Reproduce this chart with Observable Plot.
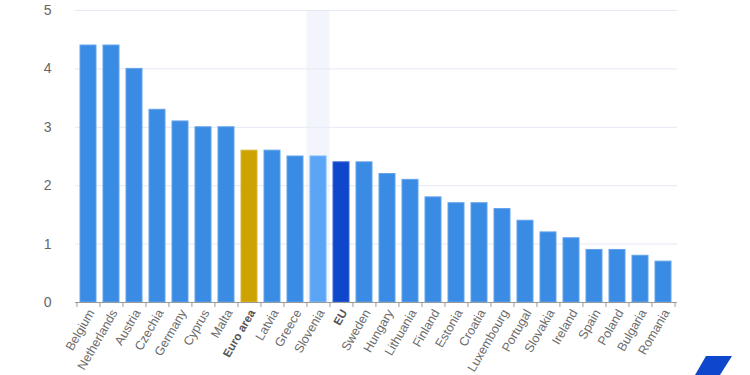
<!DOCTYPE html>
<html>
<head>
<meta charset="utf-8">
<script src="https://cdn.jsdelivr.net/npm/d3@7"></script>
<script src="https://cdn.jsdelivr.net/npm/@observablehq/plot@0.6"></script>
<style>
  html, body { margin: 0; padding: 0; background: #fff; }
  #wrap { position: relative; width: 750px; height: 375px; overflow: hidden; }
  #logo { position: absolute; left: 0; top: 0; }
</style>
</head>
<body>
<div id="wrap"></div>
<script>
const countries = ["Belgium","Netherlands","Austria","Czechia","Germany","Cyprus","Malta","Euro area","Latvia","Greece","Slovenia","EU","Sweden","Hungary","Lithuania","Finland","Estonia","Croatia","Luxembourg","Portugal","Slovakia","Ireland","Spain","Poland","Bulgaria","Romania"];
const values = [4.4,4.4,4.0,3.3,3.1,3.0,3.0,2.6,2.6,2.5,2.5,2.4,2.4,2.2,2.1,1.8,1.7,1.7,1.6,1.4,1.2,1.1,0.9,0.9,0.8,0.7];
const boldLabels = ["Euro area","EU"];
const highlighted = ["Slovenia"];
const yTicks = [0,1,2,3,4,5];

const colorOf = c => c === "Euro area" ? "#cca300" : c === "EU" ? "#0e47cb" : c === "Slovenia" ? "#5aa5f5" : "#3a8be3";
const strokeOf = c => c === "Euro area" ? "#d9b63a" : c === "EU" ? "#3a66d6" : c === "Slovenia" ? "#7ab8f7" : "#62a2ec";

const data = countries.map((c, i) => ({country: c, value: values[i]}));

const W = 750, H = 375, mL = 75, mR = 73, mT = 10, mB = 73;
const step = (W - mL - mR) / countries.length;
const font = "'Liberation Sans', Arial, Helvetica, sans-serif";

const chart = Plot.plot({
  width: W, height: H,
  marginLeft: mL, marginRight: mR, marginTop: mT, marginBottom: mB,
  style: {fontFamily: font, background: "#fff"},
  x: {domain: countries, paddingInner: 0.3, paddingOuter: 0.15, axis: null},
  y: {domain: [0, 5], axis: null},
  marks: [
    Plot.barY(highlighted, {x: d => d, y1: 0, y2: 5, fill: "#f3f5fc", insetLeft: -(step * 0.3) / 2, insetRight: -(step * 0.3) / 2}),
    Plot.ruleY(yTicks.filter(t => t > 0), {y: d => d, stroke: "#e6e9f4", strokeWidth: 1}),
    Plot.text(yTicks, {y: d => d, text: d => String(d), frameAnchor: "left", dx: -24, textAnchor: "end", fill: "#666", fontSize: 14}),
    Plot.barY(data, {x: "country", y: "value", fill: d => colorOf(d.country), stroke: d => strokeOf(d.country), strokeWidth: 1}),
    Plot.ruleY([0], {stroke: "#9a9a9a", strokeWidth: 1}),
    Plot.ruleX(countries, {x: d => d, dx: -step / 2, y1: 0, y2: -0.085, stroke: "#9a9a9a", clip: false}),
    Plot.ruleX(countries.slice(-1), {x: d => d, dx: step / 2, y1: 0, y2: -0.085, stroke: "#9a9a9a", clip: false}),
    Plot.text(countries.filter(c => !boldLabels.includes(c)), {x: d => d, y: 0, text: d => d, rotate: -60, textAnchor: "end", dy: 8, dx: 3, fill: "#6b6b6b", fontSize: 12.5}),
    Plot.text(boldLabels, {x: d => d, y: 0, text: d => d, rotate: -60, textAnchor: "end", dy: 8, dx: 3, fill: "#555", fontSize: 11.5, fontWeight: "bold"})
  ]
});
document.getElementById("wrap").appendChild(chart);

const ns = "http://www.w3.org/2000/svg";
const logo = document.createElementNS(ns, "svg");
logo.setAttribute("id", "logo");
logo.setAttribute("width", W);
logo.setAttribute("height", H);
logo.innerHTML = '<polygon points="706,356 732,356 720,375 695,375" fill="#0e47cb"/>';
document.getElementById("wrap").appendChild(logo);
</script>
</body>
</html>
